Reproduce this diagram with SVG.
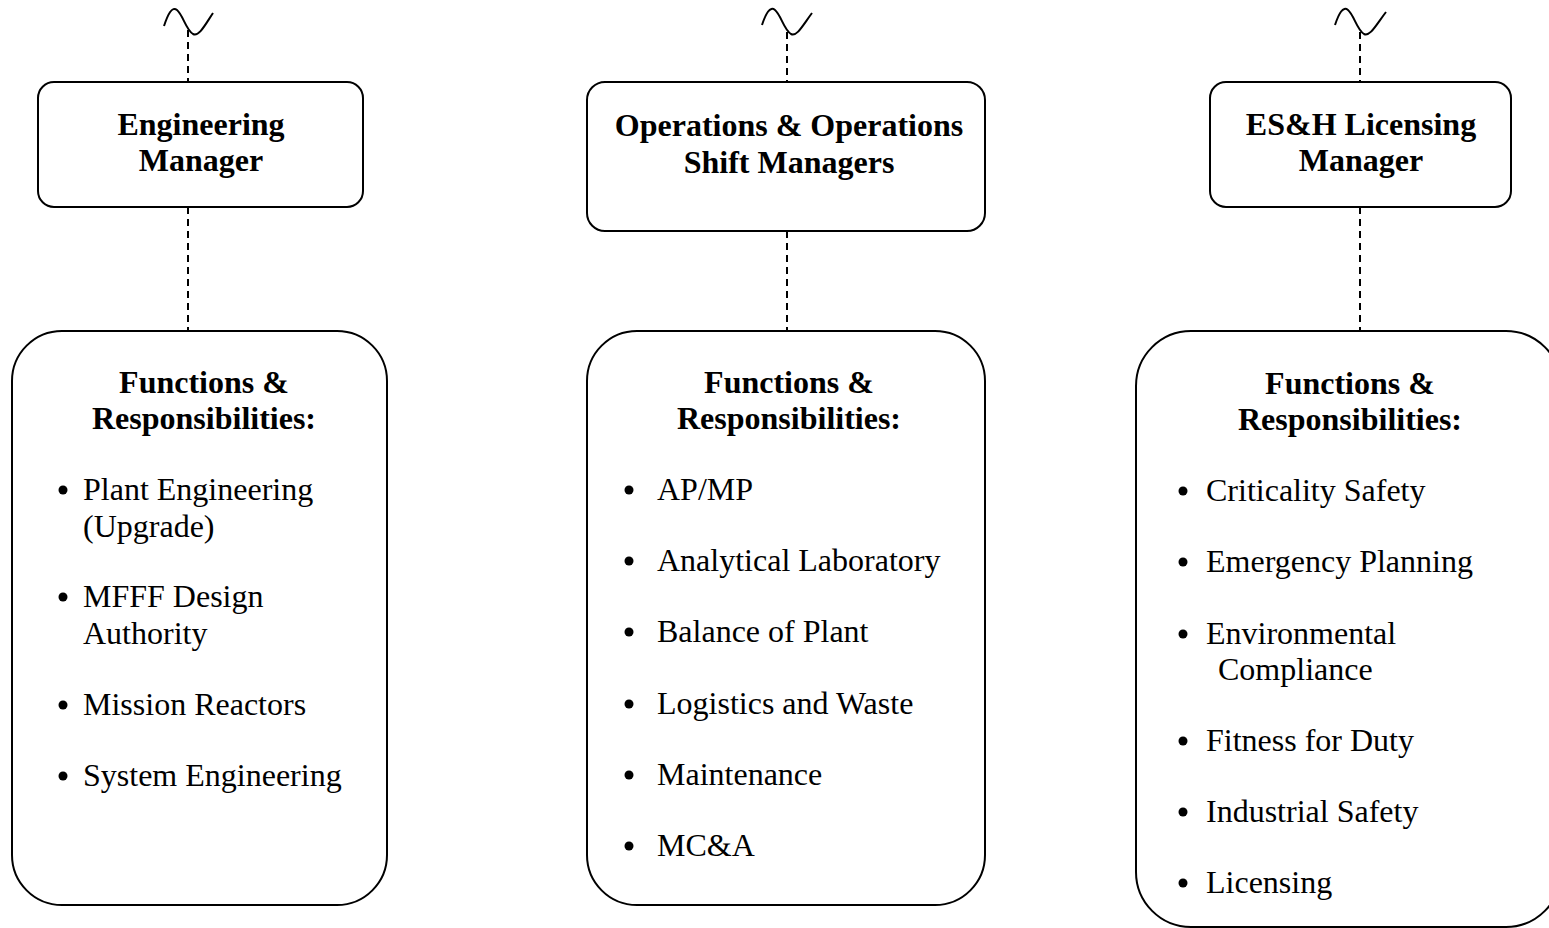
<svg xmlns="http://www.w3.org/2000/svg" width="1549" height="928" viewBox="0 0 1549 928">
<style>
.box{fill:#fff;stroke:#000;stroke-width:2}
.con{fill:none;stroke:#000;stroke-width:2;stroke-dasharray:7,5}
.tilde{fill:none;stroke:#000;stroke-width:2}
.h{font-family:"Liberation Serif","Times New Roman",serif;font-weight:bold;font-size:32px;text-anchor:middle;fill:#000}
.t{font-family:"Liberation Serif","Times New Roman",serif;font-size:32px;fill:#000}
</style>
<rect width="1549" height="928" fill="#fff"/>
<g id="connectors">
<path class="tilde" d="M164,26 C168,14 172,6 177,10 C183,15 186,30 193,34 C199,37 205,25 213,13"/>
<path class="tilde" d="M762,25 C766,13 770,6 775,10 C781,15 784,30 791,34 C797,37 803,25 812,13"/>
<path class="tilde" d="M1335,25 C1339,13 1343,6 1348,10 C1354,15 1357,30 1364,34 C1370,37 1376,25 1386,12"/>
<line class="con" x1="188" y1="30" x2="188" y2="82"/>
<line class="con" x1="188" y1="207" x2="188" y2="331"/>
<line class="con" x1="787" y1="32" x2="787" y2="82"/>
<line class="con" x1="787" y1="231" x2="787" y2="331"/>
<line class="con" x1="1360" y1="32" x2="1360" y2="82"/>
<line class="con" x1="1360" y1="207" x2="1360" y2="331"/>
</g>
<g id="eng-manager">
<rect class="box" x="38" y="82" width="325" height="125" rx="16"/>
<text class="h" x="201" y="135">Engineering</text>
<text class="h" x="201" y="171">Manager</text>
</g>
<g id="ops-manager">
<rect class="box" x="587" y="82" width="398" height="149" rx="18"/>
<text class="h" x="789" y="136">Operations &amp; Operations</text>
<text class="h" x="789" y="173">Shift Managers</text>
</g>
<g id="esh-manager">
<rect class="box" x="1210" y="82" width="301" height="125" rx="16"/>
<text class="h" x="1361" y="135">ES&amp;H Licensing</text>
<text class="h" x="1361" y="171">Manager</text>
</g>
<g id="eng-functions">
<rect class="box" x="12" y="331" width="375" height="574" rx="50"/>
<text class="h" x="204" y="393">Functions &amp;</text>
<text class="h" x="204" y="429">Responsibilities:</text>
<g class="t">
<circle cx="63" cy="490" r="4.5"/><text x="83" y="500">Plant Engineering</text>
<text x="83" y="537">(Upgrade)</text>
<circle cx="63" cy="597" r="4.5"/><text x="83" y="607">MFFF Design</text>
<text x="83" y="644">Authority</text>
<circle cx="63" cy="705" r="4.5"/><text x="83" y="715">Mission Reactors</text>
<circle cx="63" cy="776" r="4.5"/><text x="83" y="786">System Engineering</text>
</g>
</g>
<g id="ops-functions">
<rect class="box" x="587" y="331" width="398" height="574" rx="50"/>
<text class="h" x="789" y="393">Functions &amp;</text>
<text class="h" x="789" y="429">Responsibilities:</text>
<g class="t">
<circle cx="629" cy="490" r="4.5"/><text x="657" y="500">AP/MP</text>
<circle cx="629" cy="561" r="4.5"/><text x="657" y="571">Analytical Laboratory</text>
<circle cx="629" cy="632" r="4.5"/><text x="657" y="642">Balance of Plant</text>
<circle cx="629" cy="704" r="4.5"/><text x="657" y="714">Logistics and Waste</text>
<circle cx="629" cy="775" r="4.5"/><text x="657" y="785">Maintenance</text>
<circle cx="629" cy="846" r="4.5"/><text x="657" y="856">MC&amp;A</text>
</g>
</g>
<g id="esh-functions">
<rect class="box" x="1136" y="331" width="425" height="596" rx="55"/>
<text class="h" x="1350" y="394">Functions &amp;</text>
<text class="h" x="1350" y="430">Responsibilities:</text>
<g class="t">
<circle cx="1183" cy="491" r="4.5"/><text x="1206" y="501">Criticality Safety</text>
<circle cx="1183" cy="562" r="4.5"/><text x="1206" y="572">Emergency Planning</text>
<circle cx="1183" cy="634" r="4.5"/><text x="1206" y="644">Environmental</text>
<text x="1218" y="680">Compliance</text>
<circle cx="1183" cy="741" r="4.5"/><text x="1206" y="751">Fitness for Duty</text>
<circle cx="1183" cy="812" r="4.5"/><text x="1206" y="822">Industrial Safety</text>
<circle cx="1183" cy="883" r="4.5"/><text x="1206" y="893">Licensing</text>
</g>
</g>
</svg>
